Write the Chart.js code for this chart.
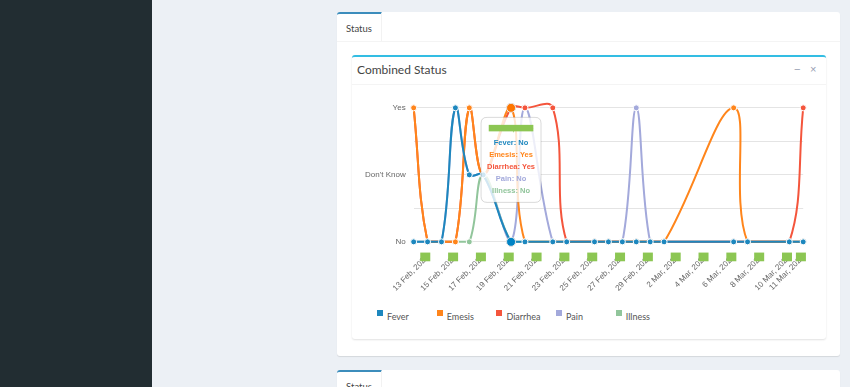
<!DOCTYPE html>
<html>
<head>
<meta charset="utf-8">
<title>Combined Status</title>
<script src="https://cdn.jsdelivr.net/npm/chart.js@4.4.1/dist/chart.umd.min.js"></script>
<style>
  html, body { margin: 0; padding: 0; }
  body { width: 850px; height: 387px; overflow: hidden; background: #ecf0f5; position: relative;
         font-family: Lato, 'Open Sans', sans-serif; }
  .sidebar { position: absolute; left: 0; top: 0; width: 152px; height: 387px; background: #222d32; }
  .panel { position: absolute; left: 337px; width: 503px; background: #fff; border-radius: 3px;
           box-shadow: 0 1px 1px rgba(0,0,0,0.1); }
  .panel-top { top: 12px; height: 344px; }
  .panel-bottom { top: 370px; height: 40px; }
  .nav { position: relative; height: 29px; border-bottom: 1px solid #f4f4f4; }
  .tab { position: absolute; left: 0; top: 0; width: 44px; height: 27px; border-top: 2px solid #3c8dbc;
         border-right: 1px solid #f2f2f2; border-top-left-radius: 3px; font-size: 9.5px; color: #444;
         line-height: 30px; text-align: center; }
  .box { position: absolute; left: 15px; top: 43px; width: 474px; height: 282px; background: #fff;
         border-top: 2px solid #33bde3; border-radius: 3px; box-shadow: 0 1px 2px rgba(0,0,0,0.12); }
  .box-header { position: relative; height: 27px; border-bottom: 1px solid #f4f4f4; }
  .box-title { position: absolute; left: 5px; top: 5px; font-size: 12px; color: #444; }
  .box-tool { position: absolute; top: 6px; font-size: 11px; color: #97a0b3; font-family: 'Liberation Sans', Arial, sans-serif; }
  .chart-wrap { position: absolute; left: 355px; top: 85px; width: 458px; height: 212px; }
  .legend { position: absolute; left: 377px; top: 304px; margin: 0; padding: 0; list-style: none; white-space: nowrap; }
  .legend li { display: inline-block; width: 59.7px; font-size: 9px; color: #555; }
  .legend .swatch { display: inline-block; width: 6px; height: 6px; margin-right: 4px; vertical-align: 4px; }
</style>
</head>
<body>
<div class="sidebar"></div>

<div class="panel panel-top">
  <div class="nav"><div class="tab">Status</div></div>
  <div class="box">
    <div class="box-header">
      <span class="box-title">Combined Status</span>
      <span class="box-tool" style="left:442px">&minus;</span>
      <span class="box-tool" style="left:458px">&times;</span>
    </div>
  </div>
</div>

<div class="panel panel-bottom">
  <div class="nav"><div class="tab">Status</div></div>
</div>

<div class="chart-wrap"><canvas id="combined-chart"></canvas></div>
<ul class="legend" id="combined-legend"></ul>

<script>
// --- DATA ---
const dayLabels = [
  '12 Feb, 2020', '13 Feb, 2020', '14 Feb, 2020', '15 Feb, 2020', '16 Feb, 2020', '17 Feb, 2020',
  '18 Feb, 2020', '19 Feb, 2020', '20 Feb, 2020', '21 Feb, 2020', '22 Feb, 2020', '23 Feb, 2020',
  '24 Feb, 2020', '25 Feb, 2020', '26 Feb, 2020', '27 Feb, 2020', '28 Feb, 2020', '29 Feb, 2020',
  '1 Mar, 2020', '2 Mar, 2020', '3 Mar, 2020', '4 Mar, 2020', '5 Mar, 2020', '6 Mar, 2020',
  '7 Mar, 2020', '8 Mar, 2020', '9 Mar, 2020', '10 Mar, 2020', '11 Mar, 2020'
];
const tickDays = [
  '13 Feb, 2020', '15 Feb, 2020', '17 Feb, 2020', '19 Feb, 2020', '21 Feb, 2020', '23 Feb, 2020',
  '25 Feb, 2020', '27 Feb, 2020', '29 Feb, 2020', '2 Mar, 2020', '4 Mar, 2020', '6 Mar, 2020',
  '8 Mar, 2020', '10 Mar, 2020', '11 Mar, 2020'
];
const answerNames = ['No', "Don't Know", 'Yes'];
const hoverDay = '19 Feb, 2020';

const seriesNames = ['Fever', 'Emesis', 'Diarrhea', 'Pain', 'Illness'];
const seriesColors = ['#1d87be', '#ff851b', '#f4553c', '#a3a9db', '#91c59b'];

// 0 = No, 1 = Don't Know, 2 = Yes, null = no entry that day
const feverValues    = [0, 0, 0, 2, 1, 1, null, 0, 0, null, 0, 0, null, 0, 0, 0, 0, 0, 0, null, null, null, null, 0, 0, null, null, 0, 0];
const emesisValues   = [2, 0, 0, 0, 2, 1, null, 2, 0, null, 0, 0, null, 0, 0, 0, 0, 0, 0, null, null, null, null, 2, 0, null, null, 0, 0];
const diarrheaValues = [2, 0, 0, 0, 2, 1, null, 2, 2, null, 2, 0, null, 0, 0, 0, 0, 0, 0, null, null, null, null, 0, 0, null, null, 0, 2];
const painValues     = [0, 0, 0, 2, 1, 1, null, 0, 2, null, 0, 0, null, 0, 0, 0, 2, 0, 0, null, null, null, null, 0, 0, null, null, 0, 0];
const illnessValues  = [0, 0, 0, 0, 0, 1, null, 0, 0, null, 0, 0, null, 0, 0, 0, 0, 0, 0, null, null, null, null, 0, 0, null, null, 0, 0];

const seriesValues = [feverValues, emesisValues, diarrheaValues, painValues, illnessValues];
const redactGreen = '#8cc653';

// --- CHART DEFAULTS ---
Chart.defaults.font.family = "'Liberation Sans', Arial, sans-serif";
Chart.defaults.font.size = 8;
Chart.defaults.color = '#666';
Chart.defaults.animation = false;

// tooltip sits centred over the hovered day
Chart.Tooltip.positioners.overDay = function (items) {
  if (!items.length) return false;
  let x = 0, minY = Infinity, maxY = -Infinity;
  items.forEach(it => {
    x += it.element.x;
    minY = Math.min(minY, it.element.y);
    maxY = Math.max(maxY, it.element.y);
  });
  return { x: x / items.length, y: (minY + maxY) / 2 - 15 };
};

// the dates are blanked out with green blocks in the original screenshot
const redactPlugin = {
  id: 'redact',
  afterDraw(chart) {
    const xs = chart.scales.x;
    const ctx = chart.ctx;
    ctx.save();
    ctx.fillStyle = redactGreen;
    xs.ticks.forEach((t, i) => {
      if (!tickDays.includes(dayLabels[i])) return;
      const x = xs.getPixelForTick(i);
      ctx.fillRect(x - 7.3, xs.top + 10.7, 10, 8.7);
    });
    ctx.restore();
  },
  afterTooltipDraw(chart, args) {
    const tip = args.tooltip;
    if (!tip.title || !tip.title.length) return;
    const ctx = chart.ctx;
    ctx.save();
    ctx.font = "bold 7.5px 'Liberation Sans', Arial, sans-serif";
    const w = ctx.measureText(tip.title[0]).width;
    ctx.fillStyle = redactGreen;
    ctx.fillRect(tip.x + tip.width / 2 - w / 2, tip.y + 7.5, w, 6.5);
    ctx.restore();
  }
};

const datasets = seriesValues.map((values, i) => ({
  label: seriesNames[i],
  data: values,
  borderColor: seriesColors[i],
  backgroundColor: seriesColors[i],
  pointBackgroundColor: seriesColors[i],
  pointBorderColor: '#fff',
  pointBorderWidth: 1,
  pointRadius: 3,
  pointHoverRadius: 4.5,
  pointHoverBorderWidth: 1,
  borderWidth: 2,
  fill: false,
  tension: 0.4,
  spanGaps: true,
  clip: false
}));

const chart = new Chart(document.getElementById('combined-chart'), {
  type: 'line',
  data: { labels: dayLabels, datasets: datasets },
  plugins: [redactPlugin],
  options: {
    responsive: true,
    maintainAspectRatio: false,
    events: [],
    layout: { padding: { left: 2, top: 7, right: 0, bottom: 1 } },
    elements: { line: { capBezierPoints: true } },
    interaction: { mode: 'index', intersect: false },
    scales: {
      x: {
        grid: { display: false },
        border: { display: false },
        ticks: {
          autoSkip: false,
          minRotation: 45,
          maxRotation: 45,
          callback: (value, index) => tickDays.includes(dayLabels[index]) ? dayLabels[index] : ''
        }
      },
      y: {
        min: 0,
        max: 2.15,
        grid: { color: '#e4e4e4', drawTicks: false },
        border: { display: false },
        ticks: {
          stepSize: 0.5,
          includeBounds: false,
          padding: 8,
          callback: v => Number.isInteger(v) ? answerNames[v] : ''
        }
      }
    },
    plugins: {
      legend: { display: false },
      tooltip: {
        position: 'overDay',
        xAlign: 'center',
        yAlign: 'center',
        caretSize: 0,
        backgroundColor: 'rgba(255,255,255,0.8)',
        borderColor: 'rgba(0,0,0,0.15)',
        borderWidth: 1,
        cornerRadius: 6,
        padding: { x: 6, y: 7 },
        displayColors: false,
        titleAlign: 'center',
        bodyAlign: 'center',
        titleColor: redactGreen,
        titleFont: { size: 7.5, weight: 'bold' },
        titleMarginBottom: 5,
        bodyFont: { size: 7.5, weight: 'bold' },
        bodySpacing: 3,
        callbacks: {
          title: items => items[0].label,
          label: ctx => ctx.dataset.label + ': ' + answerNames[ctx.raw],
          labelTextColor: ctx => ctx.dataset.borderColor
        }
      }
    }
  }
});

// --- LEGEND ---
const legendEl = document.getElementById('combined-legend');
seriesNames.forEach((name, i) => {
  const li = document.createElement('li');
  li.innerHTML = '<span class="swatch" style="background:' + seriesColors[i] + '"></span>' + name;
  legendEl.appendChild(li);
});

// --- SHOW THE HOVERED DAY ---
const hoverIndex = dayLabels.indexOf(hoverDay);
const active = datasets.map((_, d) => ({ datasetIndex: d, index: hoverIndex }));
chart.setActiveElements(active);
chart.tooltip.setActiveElements(active, { x: 0, y: 0 });
chart.update();
</script>
</body>
</html>
